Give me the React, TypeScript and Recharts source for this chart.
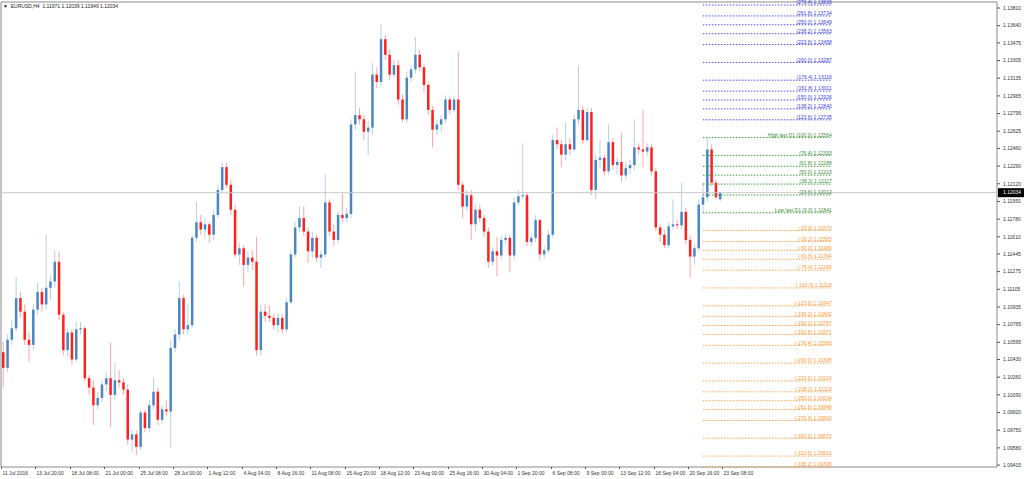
import { ComposedChart, Bar, XAxis, YAxis, ReferenceLine, ReferenceArea } from 'recharts';

// EURUSD H4, one candle per 8 hours
const opens = [
  1.1050, 1.1035, 1.1062, 1.1073, 1.1102, 1.1089, 1.1062, 1.1057, 1.1091, 1.1108,
  1.1096, 1.1112, 1.1118, 1.1137, 1.1086, 1.1052, 1.1069, 1.1043, 1.1072, 1.1073,
  1.1025, 1.1016, 1.0999, 1.1006, 1.1019, 1.1025, 1.1009, 1.1023, 1.1021, 1.1014,
  1.0966, 1.0971, 1.0959, 1.0992, 1.0977, 1.0999, 1.1012, 1.0985, 1.0995, 1.0993,
  1.1054, 1.1067, 1.1102, 1.1072, 1.1076, 1.1160, 1.1175, 1.1168, 1.1173, 1.1163,
  1.1182, 1.1206, 1.1228, 1.1211, 1.1187, 1.1144, 1.1150, 1.1134, 1.1141, 1.1137,
  1.1052, 1.1089, 1.1085, 1.1083, 1.1076, 1.1083, 1.1072, 1.1098, 1.1144, 1.1170,
  1.1179, 1.1166, 1.1147, 1.1160, 1.1141, 1.1144, 1.1194, 1.1166, 1.1158, 1.1182,
  1.1179, 1.1183, 1.1269, 1.1278, 1.1274, 1.1262, 1.1266, 1.1317, 1.1310, 1.1351,
  1.1336, 1.1317, 1.1326, 1.1293, 1.1274, 1.1314, 1.1322, 1.1336, 1.1324, 1.1307,
  1.1283, 1.1264, 1.1269, 1.1274, 1.1293, 1.1283, 1.1293, 1.1211, 1.1190, 1.1201,
  1.1173, 1.1187, 1.1179, 1.1166, 1.1137, 1.1147, 1.1143, 1.1158, 1.1160, 1.1143,
  1.1194, 1.1200, 1.1201, 1.1156, 1.1160, 1.1177, 1.1144, 1.1148, 1.1163, 1.1254,
  1.1250, 1.1240, 1.1250, 1.1245, 1.1274, 1.1283, 1.1254, 1.1281, 1.1206, 1.1235,
  1.1237, 1.1224, 1.1252, 1.1230, 1.1233, 1.1220, 1.1227, 1.1230, 1.1247, 1.1245,
  1.1243, 1.1247, 1.1224, 1.1170, 1.1163, 1.1153, 1.1171, 1.1173, 1.1172, 1.1185,
  1.1158, 1.1142, 1.1150, 1.1192, 1.1199, 1.1245, 1.1213, 1.11971,
];

const highs = [
  1.1060, 1.1067, 1.1081, 1.1122, 1.1108, 1.1096, 1.1069, 1.1096, 1.1117, 1.1112,
  1.1163, 1.1124, 1.1148, 1.1147, 1.1089, 1.1073, 1.1072, 1.1079, 1.1079, 1.1075,
  1.1028, 1.1023, 1.1012, 1.1023, 1.1031, 1.1059, 1.1040, 1.1033, 1.1025, 1.1019,
  1.0975, 1.0975, 1.0995, 1.0995, 1.1004, 1.1026, 1.1016, 1.0999, 1.1004, 1.1062,
  1.1072, 1.1118, 1.1105, 1.1096, 1.1163, 1.1195, 1.1182, 1.1179, 1.1175, 1.1187,
  1.1211, 1.1232, 1.1232, 1.1216, 1.1192, 1.1155, 1.1153, 1.1147, 1.1148, 1.1161,
  1.1096, 1.1096, 1.1095, 1.1087, 1.1087, 1.1086, 1.1102, 1.1148, 1.1175, 1.1190,
  1.1190, 1.1170, 1.1166, 1.1163, 1.1148, 1.1221, 1.1197, 1.1173, 1.1185, 1.1203,
  1.1189, 1.1274, 1.1320, 1.1285, 1.1278, 1.1272, 1.1328, 1.1324, 1.1365, 1.1355,
  1.1341, 1.1331, 1.1331, 1.1298, 1.1320, 1.1326, 1.1353, 1.1341, 1.1327, 1.1310,
  1.1287, 1.1274, 1.1278, 1.1297, 1.1296, 1.1297, 1.1339, 1.1214, 1.1206, 1.1206,
  1.1192, 1.1192, 1.1182, 1.1170, 1.1151, 1.1161, 1.1162, 1.1164, 1.1163, 1.1199,
  1.1206, 1.1251, 1.1204, 1.1164, 1.1182, 1.1179, 1.1152, 1.1167, 1.1259, 1.1266,
  1.1254, 1.1271, 1.1256, 1.1278, 1.1326, 1.1287, 1.1285, 1.1285, 1.1240, 1.1254,
  1.1240, 1.1269, 1.1256, 1.1237, 1.1261, 1.1233, 1.1235, 1.1274, 1.1251, 1.1283,
  1.1251, 1.1250, 1.1227, 1.1173, 1.1168, 1.1175, 1.1197, 1.1177, 1.1213, 1.1189,
  1.1162, 1.1154, 1.1197, 1.1213, 1.12564, 1.1250, 1.1216, 1.12039,
];

const lows = [
  1.1016, 1.1031, 1.1057, 1.1070, 1.1083, 1.1057, 1.1041, 1.1052, 1.1086, 1.1089,
  1.1091, 1.1100, 1.1112, 1.1081, 1.1047, 1.1046, 1.1038, 1.1041, 1.1067, 1.1022,
  1.1009, 1.0980, 1.0995, 1.1002, 1.1012, 1.0978, 1.1004, 1.1016, 1.1009, 1.0961,
  1.0954, 1.0951, 1.0956, 1.0973, 1.0973, 1.0995, 1.0980, 1.0981, 1.0989, 1.0958,
  1.1050, 1.1062, 1.1067, 1.1067, 1.1073, 1.1156, 1.1163, 1.1160, 1.1155, 1.1158,
  1.1179, 1.1203, 1.1208, 1.1182, 1.1141, 1.1134, 1.1113, 1.1127, 1.1129, 1.1047,
  1.1047, 1.1079, 1.1079, 1.1072, 1.1069, 1.1068, 1.1069, 1.1096, 1.1141, 1.1166,
  1.1162, 1.1136, 1.1141, 1.1137, 1.1131, 1.1141, 1.1162, 1.1152, 1.1155, 1.1175,
  1.1175, 1.1179, 1.1264, 1.1269, 1.1254, 1.1240, 1.1259, 1.1304, 1.1306, 1.1331,
  1.1312, 1.1314, 1.1288, 1.1271, 1.1270, 1.1310, 1.1318, 1.1320, 1.1300, 1.1278,
  1.1247, 1.1259, 1.1262, 1.1270, 1.1279, 1.1281, 1.1206, 1.1179, 1.1186, 1.1158,
  1.1166, 1.1175, 1.1161, 1.1131, 1.1133, 1.1123, 1.1139, 1.1154, 1.1127, 1.1139,
  1.1191, 1.1197, 1.1152, 1.1152, 1.1156, 1.1139, 1.1140, 1.1145, 1.1160, 1.1245,
  1.1228, 1.1235, 1.1239, 1.1243, 1.1269, 1.1250, 1.1252, 1.1201, 1.1197, 1.1227,
  1.1220, 1.1221, 1.1225, 1.1221, 1.1214, 1.1216, 1.1221, 1.1225, 1.1240, 1.1228,
  1.1238, 1.1220, 1.1166, 1.1156, 1.1150, 1.1150, 1.1168, 1.1168, 1.1168, 1.1154,
  1.1122, 1.1134, 1.1147, 1.11841, 1.1195, 1.1210, 1.1197, 1.11949,
];

const closes = [
  1.1035, 1.1062, 1.1073, 1.1102, 1.1089, 1.1062, 1.1057, 1.1091, 1.1108, 1.1096,
  1.1112, 1.1118, 1.1137, 1.1086, 1.1052, 1.1069, 1.1043, 1.1072, 1.1073, 1.1025,
  1.1016, 1.0999, 1.1006, 1.1019, 1.1025, 1.1009, 1.1023, 1.1021, 1.1014, 1.0966,
  1.0971, 1.0959, 1.0992, 1.0977, 1.0999, 1.1012, 1.0985, 1.0995, 1.0993, 1.1054,
  1.1067, 1.1102, 1.1072, 1.1076, 1.1160, 1.1175, 1.1168, 1.1173, 1.1163, 1.1182,
  1.1206, 1.1228, 1.1211, 1.1187, 1.1144, 1.1150, 1.1134, 1.1141, 1.1137, 1.1052,
  1.1089, 1.1085, 1.1083, 1.1076, 1.1083, 1.1072, 1.1098, 1.1144, 1.1170, 1.1179,
  1.1166, 1.1147, 1.1160, 1.1141, 1.1144, 1.1194, 1.1166, 1.1158, 1.1182, 1.1179,
  1.1183, 1.1269, 1.1278, 1.1274, 1.1262, 1.1266, 1.1317, 1.1310, 1.1351, 1.1336,
  1.1317, 1.1326, 1.1293, 1.1274, 1.1314, 1.1322, 1.1336, 1.1324, 1.1307, 1.1283,
  1.1264, 1.1269, 1.1274, 1.1293, 1.1283, 1.1293, 1.1211, 1.1190, 1.1201, 1.1173,
  1.1187, 1.1179, 1.1166, 1.1137, 1.1147, 1.1143, 1.1158, 1.1160, 1.1143, 1.1194,
  1.1200, 1.1201, 1.1156, 1.1160, 1.1177, 1.1144, 1.1148, 1.1163, 1.1254, 1.1250,
  1.1240, 1.1250, 1.1245, 1.1274, 1.1283, 1.1254, 1.1281, 1.1206, 1.1235, 1.1237,
  1.1224, 1.1252, 1.1230, 1.1233, 1.1220, 1.1227, 1.1230, 1.1247, 1.1245, 1.1243,
  1.1247, 1.1224, 1.1170, 1.1163, 1.1153, 1.1171, 1.1173, 1.1172, 1.1185, 1.1158,
  1.1142, 1.1150, 1.1192, 1.1199, 1.1245, 1.1213, 1.1199, 1.12034,
];

const timeLabels = [
  '11 Jul 2016', '13 Jul 20:00', '18 Jul 08:00', '21 Jul 00:00', '25 Jul 08:00', '28 Jul 00:00',
  '1 Aug 12:00', '4 Aug 04:00', '8 Aug 16:00', '11 Aug 08:00', '15 Aug 20:00', '18 Aug 12:00',
  '23 Aug 00:00', '25 Aug 16:00', '30 Aug 04:00', '1 Sep 20:00', '6 Sep 08:00', '9 Sep 00:00',
  '13 Sep 12:00', '16 Sep 04:00', '20 Sep 16:00', '23 Sep 08:00',
];

const priceTicks = [
  1.1381, 1.1364, 1.13475, 1.13305, 1.13135, 1.12965, 1.12795, 1.12625, 1.1246, 1.1229,
  1.1212, 1.1195, 1.1178, 1.1161, 1.11445, 1.11275, 1.11105, 1.10935, 1.10765, 1.10595,
  1.1043, 1.1026, 1.1009, 1.0992, 1.0975, 1.0958, 1.09415,
];

// fibo levels drawn from yesterday's (D1) high/low
const fibRatios = [
  276.4, 261.8, 250, 238.2, 223.6, 200, 176.4, 161.8, 150, 138.2, 123.6,
  100, 76.4, 61.8, 50, 38.2, 23.6, 0,
  -23.6, -38.2, -50, -61.8, -76.4, -100, -123.6, -138.2, -150, -161.8, -176.4,
  -200, -223.6, -238.2, -250, -261.8, -276.4, -300, -323.6, -338.2,
];
const fibPrices = [
  1.13839, 1.13734, 1.13649, 1.13563, 1.13458, 1.13287, 1.13116, 1.13011, 1.12926, 1.1284, 1.12735,
  1.12564, 1.12393, 1.12288, 1.12203, 1.12117, 1.12012, 1.11841,
  1.1167, 1.11565, 1.1148, 1.11394, 1.11289, 1.11118, 1.10947, 1.10842, 1.10757, 1.10671, 1.10566,
  1.10395, 1.10224, 1.10119, 1.10034, 1.09948, 1.09843, 1.09672, 1.09501, 1.09396,
];

const lastQuote = { open: 1.11971, high: 1.12039, low: 1.11949, close: 1.12034 };

const SLOTS = 232;
const FIB_FROM = 163;
const FIB_TO = 193;
const FONT = '"Liberation Sans", Arial, sans-serif';
const BULL = '#4a86c2';
const BEAR = '#ff1f1f';

const chartData = Array.from({ length: SLOTS }, (_, i) =>
  i < closes.length
    ? { i, open: opens[i], high: highs[i], low: lows[i], close: closes[i] }
    : { i }
);

const candleRange = (d: any) => (d.high == null ? null : [d.low, d.high]);

const renderCandle = (props: any) => {
  const { x, y, width, height, payload } = props;
  if (!payload || payload.high == null || !isFinite(y) || !isFinite(height)) return <g />;
  const { open, close, high, low } = payload;
  const k = height / (high - low);
  const yOpen = y + (high - open) * k;
  const yClose = y + (high - close) * k;
  const color = close >= open ? BULL : BEAR;
  const cx = x + width / 2;
  return (
    <g>
      <line x1={cx} x2={cx} y1={y} y2={y + height} stroke={color} strokeOpacity={0.4} strokeWidth={1} />
      <rect x={x} y={Math.min(yOpen, yClose)} width={width} height={Math.max(Math.abs(yOpen - yClose), 1)} fill={color} />
    </g>
  );
};

function TimeTick({ x, y, payload }: any) {
  const label = timeLabels[Math.round(payload.value / 8)];
  const tx = Math.round(x - 2) + 0.5;
  return (
    <g>
      <line x1={tx} x2={tx} y1={y} y2={y + 2} stroke="#555" />
      <text x={tx + 1} y={y + 7.5} fontSize={5} fill="#333" fontFamily={FONT}>{label}</text>
    </g>
  );
}

function PriceTick({ x, y, payload }: any) {
  return (
    <g>
      <line x1={x} x2={x + 3} y1={y} y2={y} stroke="#555" />
      <text x={x + 6} y={y} dy="0.35em" fontSize={5} fill="#333" fontFamily={FONT}>
        {payload.value.toFixed(5)}
      </text>
    </g>
  );
}

function fibColor(r: number) {
  if (r > 100) return { line: '#4a4aff', text: '#3c3ce0' };
  if (r >= 0) return { line: '#3a9a3a', text: '#3d8b3d' };
  return { line: '#ffa64d', text: '#ff9a33' };
}

function fibText(r: number, p: number) {
  const core = `(${r.toFixed(1)}) ${p.toFixed(5)}`;
  if (r === 100) return `High last D1 ${core}`;
  if (r === 0) return `Low last D1 ${core}`;
  return core;
}

const fibLabel = (text: string, color: string) => (props: any) => {
  const vb = props.viewBox || {};
  const right = (vb.x ?? 0) + (vb.width ?? 0);
  return (
    <text x={right} y={(vb.y ?? 0) - 0.8} textAnchor="end" fontSize={5} fill={color} fontFamily={FONT}>
      {text}
    </text>
  );
};

const priceTag = (props: any) => {
  const vb = props.viewBox || {};
  const right = (vb.x ?? 1) + (vb.width ?? 996);
  const y = vb.y ?? 0;
  return (
    <g>
      <rect x={right + 1} y={y - 4.5} width={27} height={9} fill="#000" />
      <text x={right + 6} y={y} dy="0.35em" fontSize={5} fill="#fff" fontFamily={FONT}>
        {lastQuote.close.toFixed(5)}
      </text>
    </g>
  );
};

export default function App() {
  return (
    <div style={{ position: 'absolute', left: 0, top: 0, width: 1024, height: 479, background: '#fff', fontFamily: FONT }}>
      <ComposedChart width={1024} height={479} data={chartData} margin={{ top: 2, right: 0, bottom: 0, left: 1 }}>
        <XAxis
          dataKey="i"
          type="category"
          ticks={timeLabels.map((_, i) => i * 8)}
          interval={0}
          height={12}
          axisLine={false}
          tickLine={false}
          tickSize={0}
          tickMargin={0}
          tick={TimeTick}
        />
        <YAxis
          type="number"
          orientation="right"
          domain={[1.09396, 1.13868]}
          allowDataOverflow
          ticks={priceTicks}
          interval={0}
          width={27}
          axisLine={false}
          tickLine={false}
          tickSize={0}
          tickMargin={0}
          tick={PriceTick}
        />
        <ReferenceArea y1={1.09396} y2={1.13868} fill="none" stroke="#8a8a8a" strokeWidth={1} ifOverflow="visible" />
        <ReferenceLine y={lastQuote.close} stroke="#c8c8c8" strokeWidth={1} label={priceTag} />
        <Bar dataKey={candleRange} barSize={2.5} shape={renderCandle} isAnimationActive={false} />
        {fibRatios.map((r, idx) => {
          const c = fibColor(r);
          return (
            <ReferenceLine
              key={r}
              segment={[{ x: FIB_FROM, y: fibPrices[idx] }, { x: FIB_TO, y: fibPrices[idx] }]}
              stroke={c.line}
              strokeWidth={1}
              strokeDasharray="1.5 1.5"
              ifOverflow="visible"
              label={fibLabel(fibText(r, fibPrices[idx]), c.text)}
            />
          );
        })}
      </ComposedChart>
      <div style={{ position: 'absolute', left: 3, top: 3, fontSize: 5, color: '#222', whiteSpace: 'pre', lineHeight: '6px' }}>
        {`▼  EURUSD,H4  ${lastQuote.open.toFixed(5)} ${lastQuote.high.toFixed(5)} ${lastQuote.low.toFixed(5)} ${lastQuote.close.toFixed(5)}`}
      </div>
    </div>
  );
}
